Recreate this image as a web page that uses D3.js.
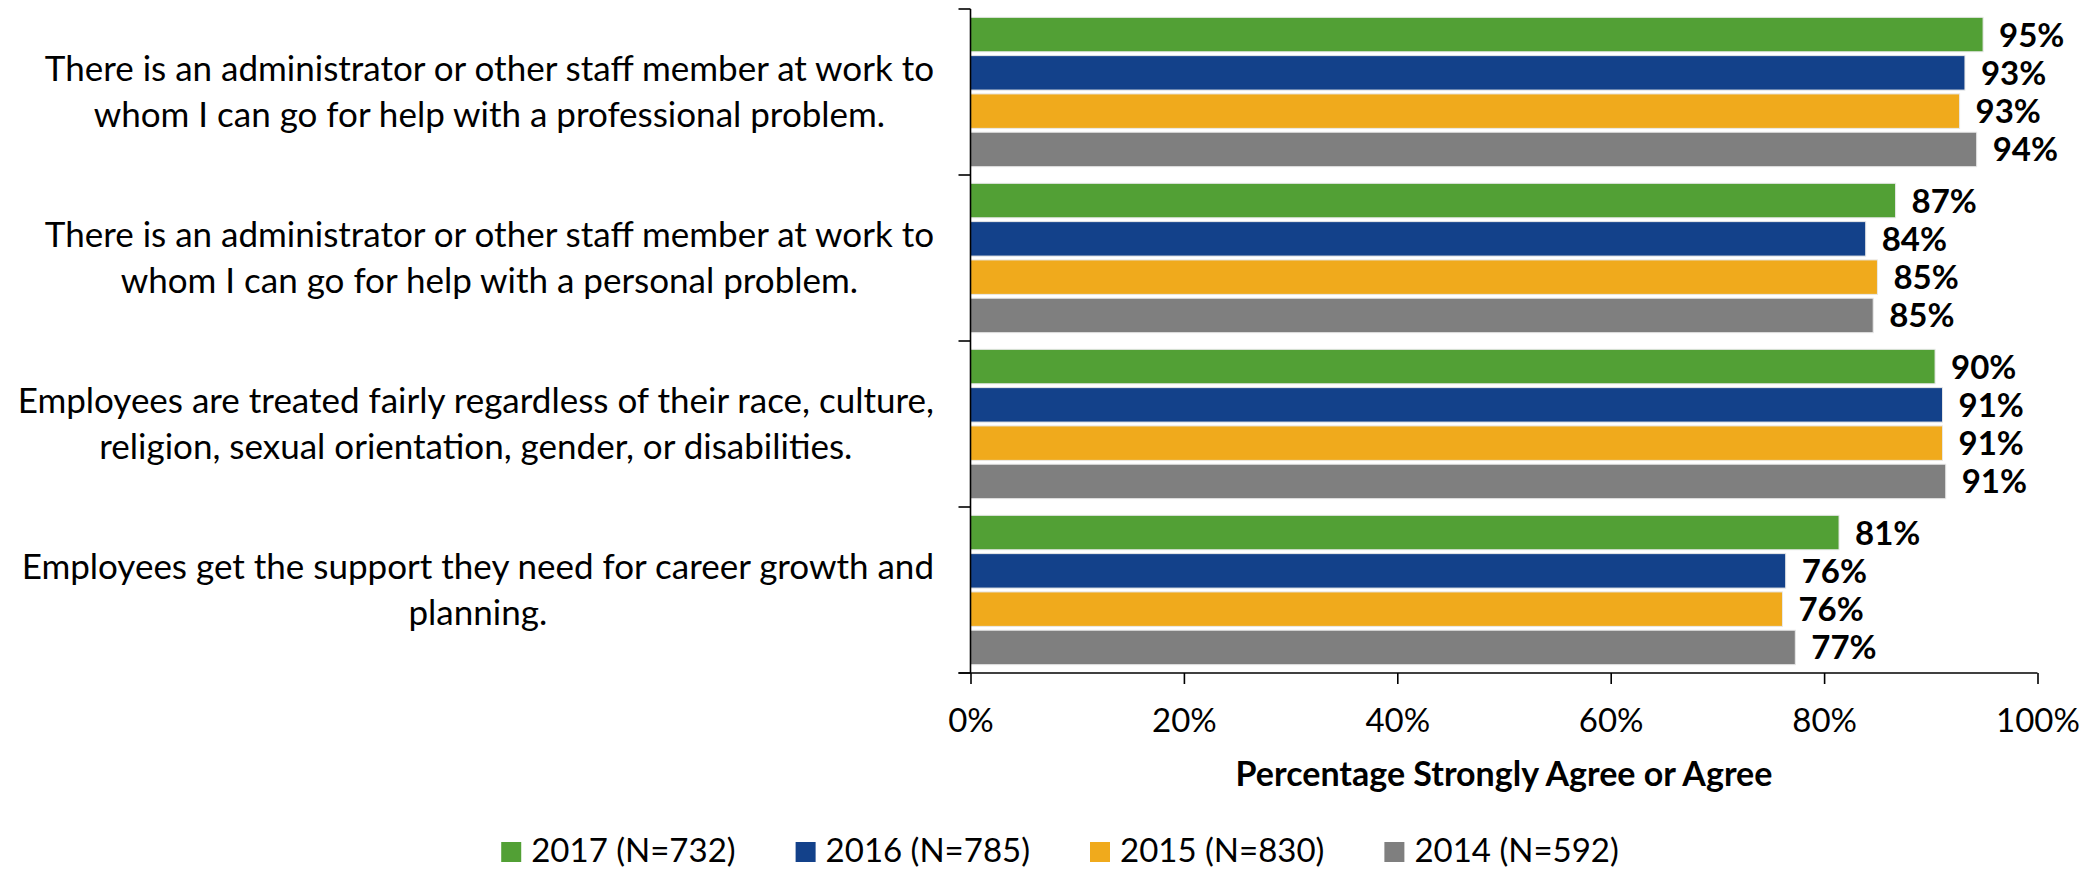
<!DOCTYPE html>
<html lang="en"><head><meta http-equiv="Content-Type" content="text/html; charset=UTF-8">
    <script src="https://d3js.org/d3.v7.min.js"></script>
    <style>
        body { margin: 0; background: #fff; }
        #barchart { position: absolute; left: 0; top: 0; }
        text { font-family: Lato, "Noto Sans", sans-serif; fill: #000; }
    </style>
</head>
<body>
    <div id="barchart"></div>
    <script>
        // survey items, each split into its two printed lines
        const categories = [
            ["There is an administrator or other staff member at work to", "whom I can go for help with a professional problem."],
            ["There is an administrator or other staff member at work to", "whom I can go for help with a personal problem."],
            ["Employees are treated fairly regardless of their race, culture,", "religion, sexual orientation, gender, or disabilities."],
            ["Employees get the support they need for career growth and", "planning."]
        ];
        const seriesNames = ["2017 (N=732)", "2016 (N=785)", "2015 (N=830)", "2014 (N=592)"];
        const seriesColors = ["#52a035", "#13418a", "#f0aa1c", "#7f7f7f"];

        // percent strongly agree / agree, one value per item
        const values2017 = [94.9, 86.7, 90.4, 81.4];
        const values2016 = [93.2, 83.9, 91.1, 76.4];
        const values2015 = [92.7, 85.0, 91.1, 76.1];
        const values2014 = [94.3, 84.6, 91.4, 77.3];

        const xTicks = [0, 20, 40, 60, 80, 100];
        const xTitle = "Percentage Strongly Agree or Agree";

        function BarChart({
            width = 2097,
            height = 871,
            left = 970.5,
            right = 2037.5,
            top = 9,
            bottom = 673,
            labelRight = 934,
            fontSize = 33,
            labelSize = 35
        } = {}) {
            const series = [values2017, values2016, values2015, values2014];
            const rows = [];
            categories.forEach((c, i) => {
                series.forEach((s, j) => rows.push({cat: i, ser: j, value: s[i]}));
            });

            const xScale = d3.scaleLinear([0, 100], [left, right]);
            const yScale = d3.scaleBand(d3.range(categories.length), [top, bottom]).padding(0);
            const ySub = d3.scaleBand(d3.range(seriesNames.length), [0, yScale.bandwidth()])
                .paddingInner(0.1)
                .paddingOuter(0.217);

            const svg = d3.select("#barchart")
                .append("svg")
                .attr("width", width)
                .attr("height", height)
                .attr("viewBox", [0, 0, width, height]);

            // bars
            svg.append("g")
                .selectAll("rect")
                .data(rows)
                .join("rect")
                .attr("x", xScale(0))
                .attr("y", d => yScale(d.cat) + ySub(d.ser))
                .attr("width", d => xScale(d.value) - xScale(0))
                .attr("height", ySub.bandwidth())
                .attr("fill", d => seriesColors[d.ser])
                .attr("stroke", "#e8e8e8")
                .attr("stroke-width", 1);

            // value labels
            svg.append("g")
                .selectAll("text")
                .data(rows)
                .join("text")
                .attr("x", d => xScale(d.value) + 16)
                .attr("y", d => yScale(d.cat) + ySub(d.ser) + ySub.bandwidth() / 2 + 12)
                .style("font-size", "33px")
                .style("font-weight", "bold")
                .text(d => Math.round(d.value) + "%");

            // x axis
            const xAxis = d3.axisBottom(xScale)
                .tickValues(xTicks)
                .tickFormat(d => d + "%")
                .tickSize(11)
                .tickSizeOuter(0)
                .tickPadding(25);
            svg.append("g")
                .attr("transform", `translate(0,${bottom})`)
                .call(xAxis)
                .call(g => g.select(".domain").attr("stroke", "#000").attr("stroke-width", 1.6)
                    .attr("d", `M${left - 12},0H${right}`))
                .call(g => g.selectAll(".tick line").attr("stroke", "#000").attr("stroke-width", 1.6))
                .call(g => g.selectAll(".tick text")
                    .attr("font-family", null)
                    .style("font-size", fontSize + "px"));

            // y axis: ticks on category boundaries
            const bounds = d3.range(categories.length + 1).map(i => top + i * yScale.step());
            svg.append("line")
                .attr("x1", left).attr("x2", left)
                .attr("y1", top).attr("y2", bottom)
                .attr("stroke", "#000").attr("stroke-width", 1.6);
            svg.append("g")
                .selectAll("line")
                .data(bounds)
                .join("line")
                .attr("x1", left - 12).attr("x2", left)
                .attr("y1", d => d).attr("y2", d => d)
                .attr("stroke", "#000").attr("stroke-width", 1.6);

            // category labels: block right-aligned to the axis, lines centred in block
            const lab = svg.append("g")
                .selectAll("text")
                .data(categories)
                .join("text")
                .attr("text-anchor", "middle")
                .style("font-size", labelSize + "px");
            lab.selectAll("tspan")
                .data((d, i) => d.map((line, k) => ({line, k, i, n: d.length})))
                .join("tspan")
                .attr("y", d => yScale(d.i) + yScale.bandwidth() / 2 + (d.k - (d.n - 1) / 2) * 45.5 + 12)
                .text(d => d.line);
            lab.each(function() {
                const spans = d3.select(this).selectAll("tspan");
                const w = d3.max(spans.nodes(), n => n.getComputedTextLength());
                spans.attr("x", labelRight - w / 2);
            });

            // axis title
            svg.append("text")
                .attr("x", (left + right) / 2)
                .attr("y", 786)
                .attr("text-anchor", "middle")
                .style("font-size", "34px")
                .style("font-weight", "bold")
                .text(xTitle);

            // legend
            const legend = svg.append("g");
            const items = legend.selectAll("g")
                .data(seriesNames)
                .join("g");
            items.append("rect")
                .attr("width", 20).attr("height", 20)
                .attr("y", 842)
                .attr("fill", (d, i) => seriesColors[i]);
            items.append("text")
                .attr("x", 30)
                .attr("y", 862)
                .style("font-size", fontSize + "px")
                .text(d => d);
            let pos = 0;
            const offsets = [];
            items.each(function() {
                offsets.push(pos);
                pos += this.getBBox().width + 60;
            });
            const total = pos - 60;
            const start = 1060 - total / 2;
            items.attr("transform", (d, i) => `translate(${start + offsets[i]},0)`);
        }

        function init() {
            BarChart();
        }

        window.onload = init;
    </script>
</body>
</html>
